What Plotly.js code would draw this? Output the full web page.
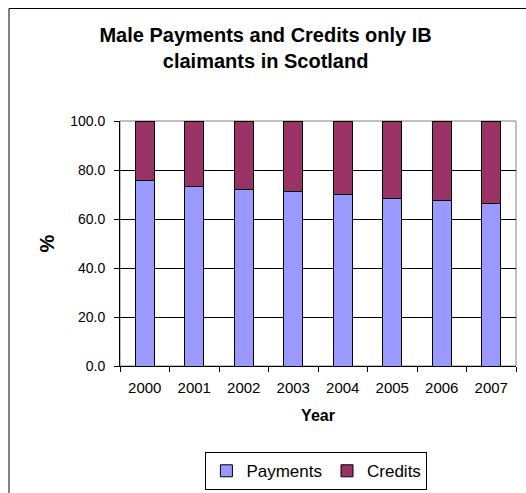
<!DOCTYPE html>
<html>
<head>
<meta charset="utf-8">
<script src="https://cdn.plot.ly/plotly-3.0.1.min.js"></script>
<style>
  html, body { margin: 0; padding: 0; background: #ffffff; }
  #chart { width: 526px; height: 493px; }
</style>
</head>
<body>
<div id="chart"></div>
<script>
const years = ['2000', '2001', '2002', '2003', '2004', '2005', '2006', '2007'];
const payments = [75.6, 73.4, 71.9, 71.2, 69.8, 68.3, 67.7, 66.2];
const credits = [24.4, 26.6, 28.1, 28.8, 30.2, 31.7, 32.3, 33.8];
const yTicks = [0, 20, 40, 60, 80, 100];

const FONT = 'Arial, "Liberation Sans", sans-serif';

const traces = [
  {
    type: 'bar', name: 'Payments', x: years, y: payments,
    marker: { color: '#9999FF', line: { color: '#000000', width: 1 } },
    hoverinfo: 'skip'
  },
  {
    type: 'bar', name: 'Credits', x: years, y: credits,
    marker: { color: '#993366', line: { color: '#000000', width: 1 } },
    hoverinfo: 'skip'
  }
];

const layout = {
  width: 526, height: 493,
  margin: { l: 120, r: 10, t: 121, b: 127, autoexpand: false },
  paper_bgcolor: '#ffffff', plot_bgcolor: '#ffffff',
  font: { family: FONT, color: '#000000' },
  barmode: 'stack',
  bargap: 0.61,
  title: {
    text: '<b>Male Payments and Credits only IB<br>claimants in Scotland</b>',
    font: { family: FONT, size: 20, color: '#000000' },
    xref: 'container', x: 0.505, xanchor: 'center',
    yref: 'container', y: 1 - 42 / 493, yanchor: 'top'
  },
  xaxis: {
    type: 'category',
    tickson: 'boundaries',
    ticks: 'outside', ticklen: 5, tickcolor: '#000000',
    ticklabelstandoff: 8,
    showline: true, linecolor: '#000000', linewidth: 1,
    showgrid: false,
    tickfont: { family: FONT, size: 15, color: '#000000' },
    title: { text: '<b>Year</b>', font: { family: FONT, size: 16, color: '#000000' }, standoff: 14 }
  },
  yaxis: {
    range: [0, 100],
    tickvals: yTicks,
    tickformat: '.1f',
    ticks: 'outside', ticklen: 5, tickcolor: '#000000',
    ticklabelstandoff: 6,
    showline: true, linecolor: '#000000', linewidth: 1,
    showgrid: true, gridcolor: '#000000', gridwidth: 1,
    zeroline: false,
    tickfont: { family: FONT, size: 14, color: '#000000' },
    title: { text: '<b>%</b>', font: { family: FONT, size: 20, color: '#000000' }, standoff: 10 }
  },
  showlegend: true,
  legend: {
    orientation: 'h',
    x: 0.496, xanchor: 'center',
    y: -0.352, yanchor: 'top',
    bordercolor: '#000000', borderwidth: 1,
    bgcolor: '#ffffff',
    font: { family: FONT, size: 17, color: '#000000' },
    itemwidth: 30,
    traceorder: 'normal'
  },
  shapes: [
    {
      type: 'rect', xref: 'paper', yref: 'paper', layer: 'below',
      x0: 0, x1: 1, y0: 0, y1: 1,
      line: { color: '#808080', width: 1 }
    },
    {
      type: 'line', xref: 'paper', yref: 'paper', layer: 'below',
      x0: (9 - 120) / 396, x1: (9 - 120) / 396,
      y0: (366 - 8.5) / 245, y1: (366 - 520) / 245,
      line: { color: '#000000', width: 1 }
    },
    {
      type: 'line', xref: 'paper', yref: 'paper', layer: 'below',
      x0: (9 - 120) / 396, x1: (560 - 120) / 396,
      y0: (366 - 8.5) / 245, y1: (366 - 8.5) / 245,
      line: { color: '#000000', width: 1 }
    }
  ]
};

Plotly.newPlot('chart', traces, layout, { staticPlot: true, displayModeBar: false });
</script>
</body>
</html>
